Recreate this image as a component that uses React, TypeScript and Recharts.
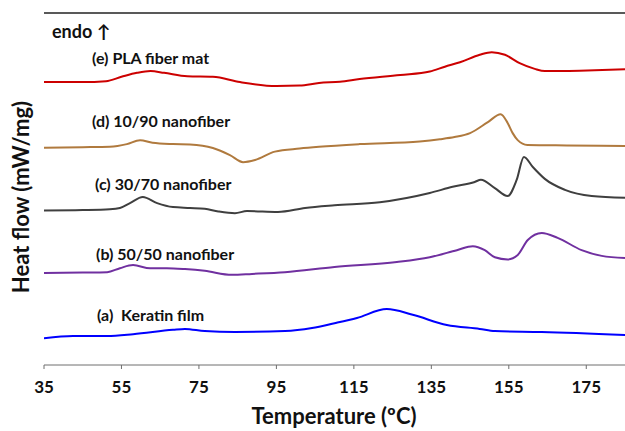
import { LineChart, Line, XAxis, YAxis, ReferenceLine } from "recharts";

// DSC heating curves, heat flow in arbitrary offset units (one y tick = 1)
const tempE = [35, 45, 51, 55, 59, 62.5, 66, 72, 78.6, 85.6, 95, 101, 106, 111.4, 116.5, 127, 134.6, 138.5, 142.4, 147.5, 150.6, 154, 157.8, 161.7, 164.3, 173.3, 185];
const flowE = [6.43, 6.43, 6.45, 6.55, 6.64, 6.68, 6.64, 6.56, 6.55, 6.43, 6.34, 6.35, 6.41, 6.44, 6.5, 6.59, 6.67, 6.78, 6.88, 7.05, 7.11, 7.05, 6.86, 6.73, 6.68, 6.69, 6.72];

const tempD = [35, 45, 52, 56.4, 59.8, 63, 68.3, 72.7, 78.6, 83, 86.4, 89.5, 94.6, 101, 106, 116.5, 132, 137.2, 141, 145, 149.6, 152.9, 154.7, 156, 157.3, 159.8, 170, 185];
const flowD = [4.94, 4.95, 4.96, 5.02, 5.11, 5.05, 5.02, 5.01, 4.93, 4.77, 4.61, 4.66, 4.85, 4.92, 4.96, 5.02, 5.08, 5.13, 5.18, 5.27, 5.52, 5.7, 5.5, 5.27, 5.11, 5.0, 4.99, 4.98];

const tempC = [35, 45, 52, 54.6, 57.2, 60.5, 64.2, 68.3, 72.7, 76.5, 80, 84.3, 87.4, 95.4, 102.4, 110, 121.7, 134.6, 140.5, 146.2, 147.8, 151.4, 154.7, 157, 158.9, 161.2, 164.3, 169.5, 176.4, 185];
const flowC = [3.51, 3.52, 3.54, 3.57, 3.68, 3.82, 3.68, 3.59, 3.57, 3.55, 3.49, 3.45, 3.5, 3.48, 3.57, 3.63, 3.7, 3.91, 4.05, 4.16, 4.21, 4.02, 3.84, 4.2, 4.73, 4.5, 4.23, 3.98, 3.84, 3.8];

const tempB = [35, 45, 51.3, 54.6, 58, 62.4, 66.7, 71.4, 76.5, 83.5, 88.7, 97.2, 110, 126.1, 134.6, 141.6, 145.7, 148.8, 151.4, 154.7, 157.3, 159.9, 163.5, 167.6, 173.8, 179, 185];
const flowB = [2.09, 2.1, 2.11, 2.2, 2.27, 2.2, 2.2, 2.18, 2.14, 2.05, 2.07, 2.11, 2.23, 2.34, 2.45, 2.61, 2.7, 2.61, 2.45, 2.4, 2.5, 2.84, 3.0, 2.89, 2.61, 2.48, 2.43];

const tempA = [35, 42.5, 51.3, 58, 68.3, 71.4, 76.5, 84.3, 97.2, 104.2, 110, 115.8, 123.5, 130.2, 139, 147.5, 151.4, 163.5, 185];
const flowA = [0.61, 0.66, 0.66, 0.7, 0.8, 0.82, 0.77, 0.75, 0.77, 0.84, 0.95, 1.07, 1.27, 1.14, 0.91, 0.82, 0.77, 0.75, 0.68];

const xTicks = [35, 55, 75, 95, 115, 135, 155, 175];
const yTicks = [0, 1, 2, 3, 4, 5, 6, 7, 8];

const series = [
  { key: "e", temps: tempE, flows: flowE, color: "#CC0000" },
  { key: "d", temps: tempD, flows: flowD, color: "#B07A3E" },
  { key: "c", temps: tempC, flows: flowC, color: "#3F3F3F" },
  { key: "b", temps: tempB, flows: flowB, color: "#7030A0" },
  { key: "a", temps: tempA, flows: flowA, color: "#0000FF" },
];

const curveLabels = [
  { text: "(e) PLA fiber mat", x: 92, y: 57 },
  { text: "(d) 10/90 nanofiber", x: 92, y: 120 },
  { text: "(c) 30/70 nanofiber", x: 95, y: 183 },
  { text: "(b) 50/50 nanofiber", x: 96, y: 253 },
  { text: "(a)  Keratin film", x: 97, y: 314 },
];

const font = "Lato, 'Open Sans', sans-serif";

export default function App() {
  return (
    <div style={{ position: "absolute", left: 0, top: 0, background: "#fff" }}>
      <LineChart
        width={625}
        height={431}
        margin={{ top: 13, right: 0, left: 44, bottom: 0 }}
      >
        <XAxis
          type="number"
          dataKey="t"
          domain={[35, 185]}
          ticks={xTicks}
          allowDataOverflow
          height={66}
          stroke="#6e6e6e"
          tickSize={4}
          tickMargin={12}
          tick={{ fill: "#111", fontSize: 17, fontWeight: 700, fontFamily: font }}
        />
        <YAxis
          type="number"
          domain={[0, 8]}
          ticks={yTicks}
          width={0}
          stroke="#6e6e6e"
          tickSize={4}
          tickFormatter={() => ""}
        />
        <ReferenceLine y={8} stroke="#222" strokeWidth={1.5} />
        {series.map((s) => (
          <Line
            key={s.key}
            data={s.temps.map((t, i) => ({ t, v: s.flows[i] }))}
            dataKey="v"
            type="monotone"
            stroke={s.color}
            strokeWidth={2}
            dot={false}
            activeDot={false}
            isAnimationActive={false}
          />
        ))}
        <text
          x={20}
          y={197}
          transform="rotate(-90 20 197)"
          textAnchor="middle"
          dominantBaseline="central"
          style={{ fill: "#111", fontSize: 22, fontWeight: 700, fontFamily: font }}
        >
          Heat flow (mW/mg)
        </text>
        <text
          x={334}
          y={415}
          textAnchor="middle"
          dominantBaseline="central"
          style={{ fill: "#111", fontSize: 22, fontWeight: 700, fontFamily: font }}
        >
          Temperature (ºC)
        </text>
        <text
          x={52}
          y={31}
          dominantBaseline="central"
          style={{ fill: "#111", fontSize: 18, fontWeight: 700, fontFamily: font }}
        >
          endo ↑
        </text>
        {curveLabels.map((l) => (
          <text
            key={l.text}
            x={l.x}
            y={l.y}
            dominantBaseline="central"
            style={{ fill: "#111", fontSize: 16, fontWeight: 700, fontFamily: font, whiteSpace: "pre" }}
          >
            {l.text}
          </text>
        ))}
      </LineChart>
    </div>
  );
}
